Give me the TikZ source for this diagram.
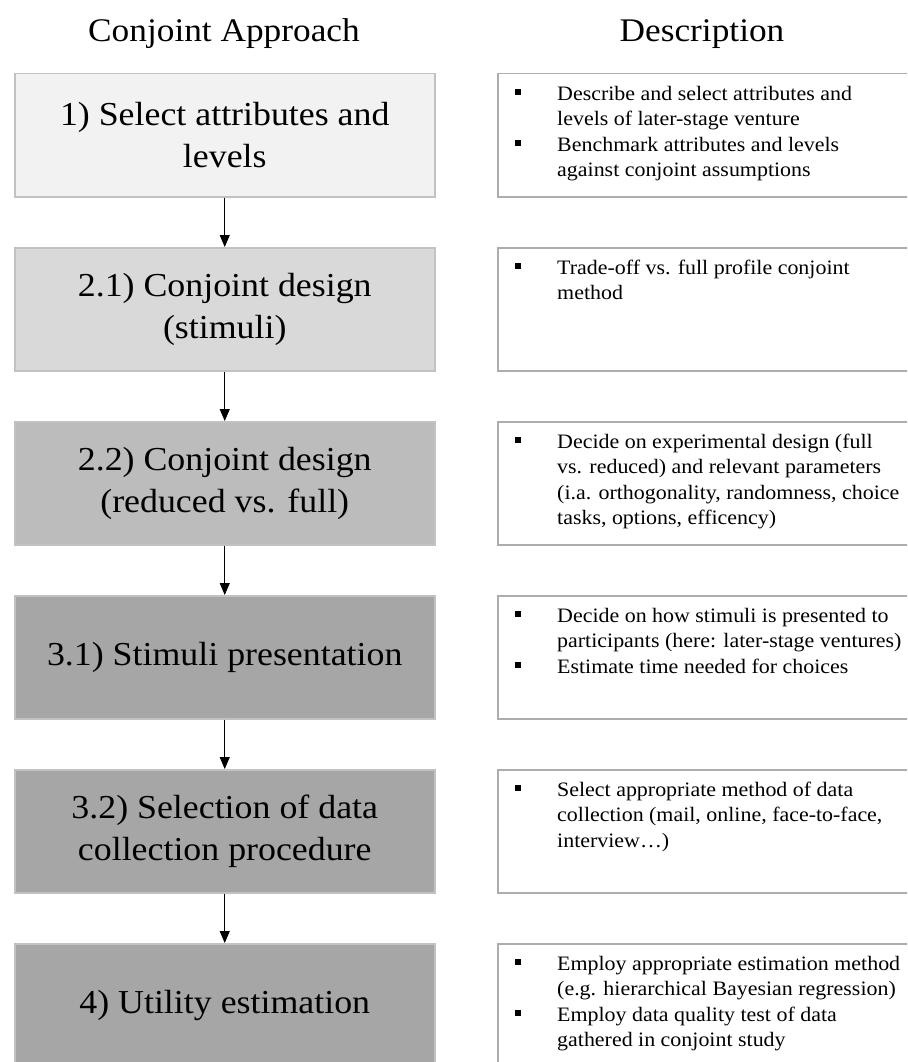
\documentclass[tikz,border=0pt]{standalone}
\usepackage{fontspec}
\setmainfont[FakeStretch=1.07]{Liberation Serif}
\usetikzlibrary{arrows.meta}
\definecolor{fillA}{HTML}{F2F2F2}
\definecolor{fillB}{HTML}{D9D9D9}
\definecolor{fillC}{HTML}{BCBCBC}
\definecolor{fillD}{HTML}{A6A6A6}
\definecolor{bordL}{HTML}{C2C2C2}
\definecolor{bordR}{HTML}{ADADAD}
\newcommand\bul{\makebox[42pt][l]{\rule[5pt]{6pt}{6pt}}}
\newcommand\ind{\hspace*{42pt}}
\newcommand\fl{\rule{0pt}{20pt}}
\begin{document}
\begin{tikzpicture}[x=1pt,y=-1pt,
  lbox/.style={draw=bordL,line width=1.5pt,minimum width=420pt,minimum height=123pt,inner sep=0pt,align=center,anchor=north west,font=\fontsize{33.5}{42}\selectfont},
  rbox/.style={draw=bordR,line width=1.5pt,fill=white,minimum width=440pt,minimum height=123pt,inner sep=0pt,anchor=north west},
  dtext/.style={inner sep=0pt,align=left,anchor=north west,font=\fontsize{20.5}{25.5}\selectfont},
  head/.style={anchor=base,inner sep=0pt,font=\fontsize{33}{40}\selectfont},
  arr/.style={-{Triangle[length=12pt,width=10pt]},line width=0.8pt,black}]
\useasboundingbox (0,0) rectangle (907,1062);
\clip (0,0) rectangle (907,1062);
\fill[white] (0,0) rectangle (907,1062);

\node[head] (h1) at (224,42) {Conjoint Approach};
\node[head] (h2) at (702,42) {Description};

\node[lbox,fill=fillA] (a1) at (14,73) {1) Select attributes and\\levels};
\node[lbox,fill=fillB] (a2) at (14,247) {2.1) Conjoint design\\(stimuli)};
\node[lbox,fill=fillC] (a3) at (14,421) {2.2) Conjoint design\\(reduced vs. full)};
\node[lbox,fill=fillD] (a4) at (14,595) {3.1) Stimuli presentation};
\node[lbox,fill=fillD] (a5) at (14,769) {3.2) Selection of data\\collection procedure};
\node[lbox,fill=fillD] (a6) at (14,943) {4) Utility estimation};

\draw[arr] (a1.south) -- (a2.north);
\draw[arr] (a2.south) -- (a3.north);
\draw[arr] (a3.south) -- (a4.north);
\draw[arr] (a4.south) -- (a5.north);
\draw[arr] (a5.south) -- (a6.north);

\node[rbox] (r1) at (497,73) {};
\node[rbox] (r2) at (497,247) {};
\node[rbox] (r3) at (497,421) {};
\node[rbox] (r4) at (497,595) {};
\node[rbox] (r5) at (497,769) {};
\node[rbox] (r6) at (497,943) {};

\node[dtext] (d1) at (515,80) {\fl\bul Describe and select attributes and\\ \ind levels of later-stage venture\\ \bul Benchmark attributes and levels\\ \ind against conjoint assumptions};
\node[dtext] (d2) at (515,254) {\fl\bul Trade-off vs. full profile conjoint\\ \ind method};
\node[dtext] (d3) at (515,428) {\fl\bul Decide on experimental design (full\\ \ind vs. reduced) and relevant parameters\\ \ind (i.a. orthogonality, randomness, choice\\ \ind tasks, options, efficency)};
\node[dtext] (d4) at (515,602) {\fl\bul Decide on how stimuli is presented to\\ \ind participants (here: later-stage ventures)\\ \bul Estimate time needed for choices};
\node[dtext] (d5) at (515,776) {\fl\bul Select appropriate method of data\\ \ind collection (mail, online, face-to-face,\\ \ind interview…)};
\node[dtext] (d6) at (515,950) {\fl\bul Employ appropriate estimation method\\ \ind (e.g. hierarchical Bayesian regression)\\ \bul Employ data quality test of data\\ \ind gathered in conjoint study};
\end{tikzpicture}
\end{document}
